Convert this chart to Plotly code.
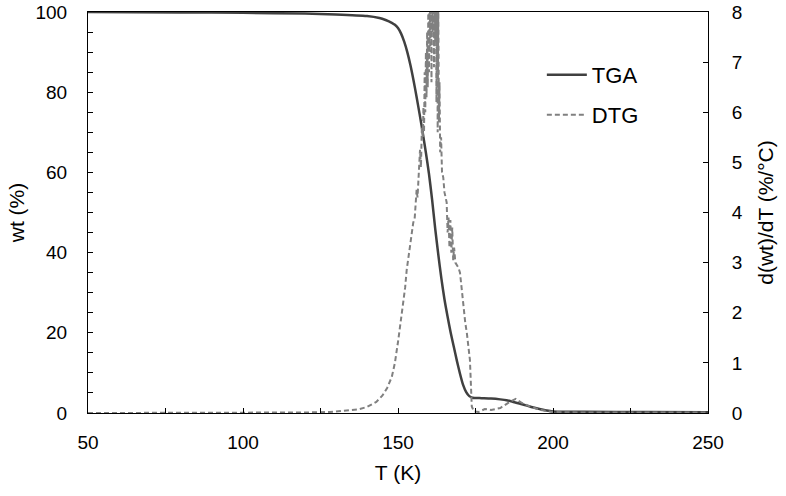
import plotly.graph_objects as go

# TGA curve (wt %) vs temperature (K)
tga_T = [50, 80, 100, 120, 130, 140, 144, 146, 148, 149, 150, 151, 152, 153, 154, 155, 156, 157, 158, 159,
         160, 161, 162, 163, 164, 165, 166, 167, 168, 169, 170, 171, 172, 173, 174, 177, 180, 183,
         185, 187, 190, 193, 195, 198, 200, 205, 210, 230, 250]
tga_wt = [100, 99.9, 99.8, 99.6, 99.4, 99.0, 98.5, 98.0, 97.3, 96.8, 96.0, 94.6, 92.6, 90.0, 86.8, 83.0,
          78.8, 74.4, 69.8, 64.9, 59.6, 53.2, 46.0, 39.5, 33.5, 28.3, 24.0, 20.0, 16.5, 13.0, 9.8, 7.0,
          5.2, 4.2, 3.8, 3.7, 3.6, 3.4, 3.2, 2.8, 2.2, 1.5, 1.1, 0.6, 0.4, 0.32, 0.3, 0.25, 0.2]

# DTG curve (%/°C) vs temperature (K)
dtg_T = [50, 100, 120, 128, 133, 137, 140, 143, 145, 146.5, 148, 149, 150.1, 151, 151.7, 152.3, 152.8,
         153.4, 153.9, 154.4, 154.9, 155.4, 155.7, 156.0, 156.3, 156.6, 156.9, 157.1, 157.4, 157.7,
         158.0, 158.2, 158.4, 158.6, 158.8, 159.0, 159.2, 159.4, 159.6, 159.8, 160.0, 160.2, 160.4,
         160.6, 160.8, 161.0, 161.2, 161.4, 161.6, 161.8, 162.0, 162.2, 162.4, 162.6, 162.8, 163.0,
         163.2, 163.4, 163.6, 163.9, 164.2, 164.6, 165.0, 165.4, 165.7, 166.0, 166.3, 166.6, 166.9,
         167.2, 167.5, 167.8, 168.1, 168.5, 169.0, 169.5, 170.0, 170.6, 171.1, 171.7, 172.2, 172.7,
         173.2, 173.5, 173.8, 174.5, 176, 178, 180, 183, 186, 188, 190, 193, 196, 200, 210, 250]
dtg_v = [0.0, 0.0, 0.01, 0.02, 0.04, 0.07, 0.12, 0.22, 0.35, 0.5, 0.72, 1.0, 1.46, 1.85, 2.19, 2.5, 2.85,
         3.1, 3.39, 3.55, 3.79, 3.9, 4.2, 4.45, 4.3, 4.8, 5.0, 5.25, 4.9, 5.7,
         5.5, 6.1, 5.6, 6.8, 6.0, 7.2, 6.3, 7.6, 6.5, 8.3, 6.8, 9.0, 7.2,
         9.3, 6.6, 9.1, 7.6, 9.4, 6.9, 9.0, 7.4, 8.8, 6.2, 8.9, 5.6, 8.2,
         5.8, 6.6, 5.2, 5.5, 4.8, 4.7, 4.4, 4.3, 4.2, 3.6, 3.9, 3.3, 3.85,
         3.2, 3.7, 3.05, 3.3, 3.0, 2.95, 2.9, 2.8, 2.45, 2.05, 1.8, 1.6, 1.3,
         1.06, 0.6, 0.13, 0.03, 0.02, 0.08, 0.06, 0.1, 0.22, 0.28, 0.2, 0.12, 0.06, 0.02, 0.01, 0.01]

FONT = "Liberation Sans, Arial, sans-serif"

fig = go.Figure()
fig.add_trace(go.Scatter(x=tga_T, y=tga_wt, mode="lines", name="TGA", showlegend=True,
                         line=dict(color="#404040", width=2.5, shape="spline", smoothing=0.6),
                         legend="legend"))
fig.add_trace(go.Scatter(x=dtg_T, y=dtg_v, mode="lines", name="DTG", yaxis="y2", showlegend=True,
                         line=dict(color="#808080", width=2, dash="5px,3px"), legend="legend2"))

axis_common = dict(showline=True, linecolor="black", linewidth=1, ticks="inside", ticklen=5,
                   tickcolor="black", showgrid=False, zeroline=False, automargin=False,
                   tickfont=dict(family=FONT, size=19, color="black"))

fig.update_layout(
    width=786, height=496,
    margin=dict(l=88, r=78, t=12, b=83),
    showlegend=True,
    plot_bgcolor="white", paper_bgcolor="white",
    font=dict(family=FONT, color="black"),
    xaxis=dict(range=[50, 250], dtick=50, tick0=50, mirror=True, ticklabelstandoff=12,
               minor=dict(dtick=25, ticks="inside", ticklen=5, tickcolor="black"),
               title=dict(text="T (K)", font=dict(family=FONT, size=21), standoff=13),
               **axis_common),
    yaxis=dict(range=[0, 100], dtick=20, ticklabelstandoff=16,
               minor=dict(dtick=5, ticks="inside", ticklen=5, tickcolor="black"),
               title=dict(text="wt (%)", font=dict(family=FONT, size=21), standoff=5),
               **axis_common),
    yaxis2=dict(range=[0, 8], dtick=1, overlaying="y", side="right", ticklabelstandoff=19,
                title=dict(text="d(wt)/dT (%/°C)", font=dict(family=FONT, size=21), standoff=16),
                **axis_common),
    legend=dict(x=0.732, y=0.843, xanchor="left", yanchor="middle", bgcolor="rgba(0,0,0,0)",
                itemwidth=40, font=dict(family=FONT, size=22, color="black")),
    legend2=dict(x=0.732, y=0.743, xanchor="left", yanchor="middle", bgcolor="rgba(0,0,0,0)",
                 itemwidth=40, font=dict(family=FONT, size=22, color="black")),
)

fig.write_html("out.html", config={"displayModeBar": False},
               post_script="document.body.style.margin='0px';")
